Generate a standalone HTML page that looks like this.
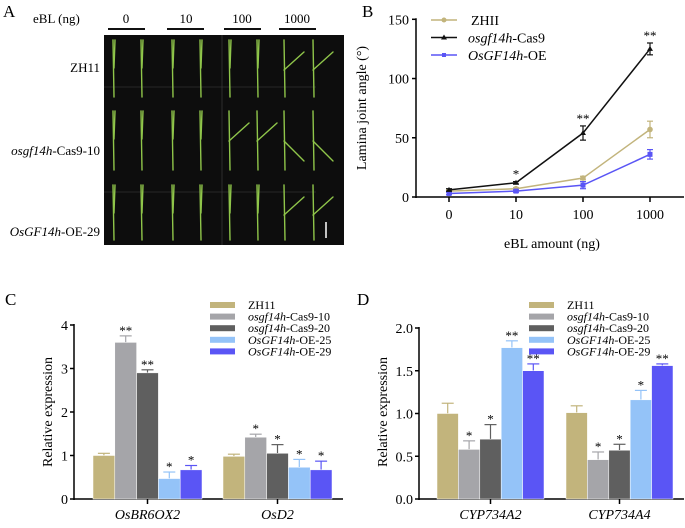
<!DOCTYPE html>
<html><head><meta charset="utf-8"><style>
body{margin:0;background:#fff}
svg, svg text{font-family:"Liberation Serif","Times New Roman",serif}
</style></head><body>
<svg id="fig" width="685" height="523" viewBox="0 0 685 523" xmlns="http://www.w3.org/2000/svg" font-family="Liberation Serif, Times New Roman, serif">
<g>
<text x="3" y="17" font-size="17">A</text>
<text x="33" y="23" font-size="13">eBL (ng)</text>
<g font-size="13" text-anchor="middle">
<text x="126" y="23">0</text><text x="186" y="23">10</text><text x="242" y="23">100</text><text x="297" y="23">1000</text>
</g>
<g stroke="#111" stroke-width="2">
<line x1="108" y1="29" x2="145" y2="29"/><line x1="167" y1="29" x2="204" y2="29"/><line x1="224" y1="29" x2="261" y2="29"/><line x1="279" y1="29" x2="316" y2="29"/>
</g>
<rect x="104" y="35" width="240" height="210" fill="#0d0d0d"/>
<g stroke="#444" stroke-width="0.6"><line x1="104" y1="87" x2="316" y2="87"/><line x1="104" y1="192" x2="316" y2="192"/><line x1="222" y1="35" x2="222" y2="245"/></g>
<g id="leaves" stroke="#8fc54a" stroke-width="1.4" stroke-linecap="round"></g>
<line x1="326" y1="222" x2="326" y2="238" stroke="#fff" stroke-width="1.5"/>
<g font-size="13" text-anchor="end">
<text x="100" y="72">ZH11</text>
<text x="100" y="155"><tspan font-style="italic">osgf14h</tspan>-Cas9-10</text>
<text x="100" y="236"><tspan font-style="italic">OsGF14h</tspan>-OE-29</text>
</g>
</g>
<text x="362" y="17" font-size="17">B</text>
<text x="5" y="305" font-size="17">C</text>
<text x="357" y="305" font-size="17">D</text>
<g id="pb"></g>
<g id="pc"></g>
<g id="pd"></g>
</svg>
<script>
// Panel B data
const doses=["0","10","100","1000"];
const zhVals=[5,7,16,57];
const zhErr=[1,1,1.5,7];
const casVals=[6,12,54,125];
const casErr=[1,1,6,5];
const oeVals=[3,5,10,36];
const oeErr=[1,1,3,4];
const casSig=["","*","**","**"];
const bTicks=[0,50,100,150];
// Panel C data
const cGenes=["OsBR6OX2","OsD2"];
const cVals=[[1.0,3.6,2.9,0.47,0.67],[0.98,1.42,1.05,0.73,0.67]];
const cErr=[[0.05,0.15,0.07,0.15,0.1],[0.05,0.07,0.2,0.18,0.2]];
const cSig=[["","**","**","*","*"],["","*","*","*","*"]];
const cTicks=["0","1","2","3","4"];
// Panel D data
const dGenes=["CYP734A2","CYP734A4"];
const dVals=[[1.0,0.58,0.7,1.77,1.5],[1.01,0.46,0.57,1.16,1.56]];
const dErr=[[0.12,0.1,0.17,0.08,0.08],[0.08,0.09,0.07,0.11,0.02]];
const dSig=[["","*","*","**","**"],["","*","*","*","**"]];
const dTicks=["0.0","0.5","1.0","1.5","2.0"];
const lines=["ZH11","osgf14h|-Cas9-10","osgf14h|-Cas9-20","OsGF14h|-OE-25","OsGF14h|-OE-29"];
const colors=["#c2b47c","#a5a5a9","#5f5f5f","#94c3f8","#5a55f5"];
const NS="http://www.w3.org/2000/svg";
function mk(p,t,a,txt){const e=document.createElementNS(NS,t);for(const k in a)e.setAttribute(k,a[k]);if(txt!==undefined)e.textContent=txt;p.appendChild(e);return e;}

// leaves (photo decoration)
const lv=document.getElementById('leaves');
const cols=[113,141,172,200,229,257,284,313];
const rows=[[40,97],[111,170],[185,240]];
const bend=[[0,0,0,0,0,0,1,1],[0,0,0,0,1,1,2,2],[0,0,0,0,0,0,1,1]];
rows.forEach((r,ri)=>cols.forEach((c,ci)=>{
 mk(lv,'line',{x1:c,y1:r[0],x2:c+1,y2:r[1]});
 const b=bend[ri][ci];
 if(b===0)mk(lv,'line',{x1:c+1,y1:r[0]+28,x2:c+2,y2:r[0]});
 else if(b===1)mk(lv,'line',{x1:c,y1:r[0]+30,x2:c+20,y2:r[0]+12});
 else mk(lv,'line',{x1:c,y1:r[0]+30,x2:c+20,y2:r[0]+50});
}));

// Panel B
(function(){
const g=document.getElementById('pb');
const X0=416,X1=684,Y0=197,Ytop=19.3;
const x=i=>449+i*67;const y=v=>Y0-(v/150)*(Y0-Ytop);
mk(g,'line',{x1:X0,y1:Ytop-1,x2:X0,y2:Y0+1,stroke:'#000','stroke-width':1.5});
mk(g,'line',{x1:X0,y1:Y0,x2:X1,y2:Y0,stroke:'#000','stroke-width':1.5});
bTicks.forEach(t=>{mk(g,'line',{x1:X0-4,y1:y(t),x2:X0,y2:y(t),stroke:'#000','stroke-width':1.5});
 const tt=mk(g,'text',{x:X0-7,y:y(t)+5,'font-size':14,'text-anchor':'end'},t);
 });
doses.forEach((d,i)=>{mk(g,'line',{x1:x(i),y1:Y0,x2:x(i),y2:Y0+5,stroke:'#000','stroke-width':1.5});
 const tt=mk(g,'text',{x:x(i),y:Y0+22,'font-size':14,'text-anchor':'middle'},d);
 });
const yt=mk(g,'text',{x:0,y:0,'font-size':14,'text-anchor':'middle',transform:'translate(366,108) rotate(-90)'},'Lamina joint angle (°)');

const xt=mk(g,'text',{x:552,y:248,'font-size':14,'text-anchor':'middle'},'eBL amount (ng)');

const series=[[zhVals,zhErr,'#c2b47c','circle','zh11-line'],[oeVals,oeErr,'#5a55f5','square','oe-line'],[casVals,casErr,'#111','tri','cas9-line']];
series.forEach(([v,e,c,m,n])=>{
 const p=mk(g,'polyline',{points:v.map((val,i)=>x(i)+','+y(val)).join(' '),fill:'none',stroke:c,'stroke-width':1.5});
 
 v.forEach((val,i)=>{
  mk(g,'line',{x1:x(i),y1:y(val+e[i]),x2:x(i),y2:y(val-e[i]),stroke:c,'stroke-width':1.2});
  mk(g,'line',{x1:x(i)-3,y1:y(val+e[i]),x2:x(i)+3,y2:y(val+e[i]),stroke:c,'stroke-width':1.2});
  mk(g,'line',{x1:x(i)-3,y1:y(val-e[i]),x2:x(i)+3,y2:y(val-e[i]),stroke:c,'stroke-width':1.2});
  let pt;
  if(m==='circle')pt=mk(g,'circle',{cx:x(i),cy:y(val),r:2.8,fill:c});
  else if(m==='square')pt=mk(g,'rect',{x:x(i)-2.5,y:y(val)-2.5,width:5,height:5,fill:c});
  else pt=mk(g,'polygon',{points:`${x(i)},${y(val)-3} ${x(i)-3},${y(val)+2} ${x(i)+3},${y(val)+2}`,fill:c});
  
 });
});
casSig.forEach((s,i)=>{if(s)mk(g,'text',{x:x(i),y:y(casVals[i]+casErr[i])-3,'font-size':13,'text-anchor':'middle'},s);});
const leg=[['ZHII','','#c2b47c','circle'],['osgf14h','-Cas9','#111','tri'],['OsGF14h','-OE','#5a55f5','square']];
leg.forEach((l,i)=>{const yy=20+i*17.5;
 const lg=mk(g,'g',{});
 mk(lg,'line',{x1:431,y1:yy,x2:457,y2:yy,stroke:l[2],'stroke-width':1.5});
 if(l[3]==='circle')mk(lg,'circle',{cx:444,cy:yy,r:2.5,fill:l[2]});
 else if(l[3]==='square')mk(lg,'rect',{x:442,y:yy-2,width:4,height:4,fill:l[2]});
 else mk(lg,'polygon',{points:`444,${yy-3} 441,${yy+2} 447,${yy+2}`,fill:l[2]});
 const t=mk(lg,'text',{x:i===0?471:468,y:yy+5,'font-size':14});
 if(i===0)mk(t,'tspan',{},l[0]);else{mk(t,'tspan',{'font-style':'italic'},l[0]);mk(t,'tspan',{},l[1]);}
});
})();

function barChart(id,genes,vals,errs,sigs,ticks,maxV,cfg){
 const g=document.getElementById(id);
 const y=v=>cfg.Y0-(v/maxV)*(cfg.Y0-cfg.Ytop);
 mk(g,'line',{x1:cfg.X0,y1:cfg.Ytop-1,x2:cfg.X0,y2:cfg.Y0+1,stroke:'#000','stroke-width':1.5});
 mk(g,'line',{x1:cfg.X0,y1:cfg.Y0,x2:cfg.X1,y2:cfg.Y0,stroke:'#000','stroke-width':1.5});
 ticks.forEach((t,i)=>{const v=maxV*i/(ticks.length-1);
  mk(g,'line',{x1:cfg.X0-4,y1:y(v),x2:cfg.X0,y2:y(v),stroke:'#000','stroke-width':1.5});
  const tt=mk(g,'text',{x:cfg.X0-6,y:y(v)+5,'font-size':14,'text-anchor':'end'},t);
  });
 const yt=mk(g,'text',{x:0,y:0,'font-size':14,'text-anchor':'middle',transform:`translate(${cfg.ytx},412) rotate(-90)`},'Relative expression');
 
 genes.forEach((gn,gi)=>{
  const gx=cfg.gStart[gi];
  vals[gi].forEach((v,bi)=>{
   const bx=gx+bi*cfg.bw;
   const e=errs[gi][bi];const c=colors[bi];
   const cx=bx+cfg.bw/2;
   mk(g,'line',{x1:cx,y1:y(v),x2:cx,y2:y(v+e),stroke:c,'stroke-width':1.2});
   mk(g,'line',{x1:cx-6,y1:y(v+e),x2:cx+6,y2:y(v+e),stroke:c,'stroke-width':1.2});
   const r=mk(g,'rect',{x:bx,y:y(v),width:cfg.bw,height:cfg.Y0-y(v),fill:c,stroke:'#fff','stroke-width':0.5});
   
   
   if(sigs[gi][bi])mk(g,'text',{x:cx,y:y(v+e)-1,'font-size':13,'text-anchor':'middle'},sigs[gi][bi]);
  });
  const center=gx+cfg.bw*2.5;
  mk(g,'line',{x1:center,y1:cfg.Y0,x2:center,y2:cfg.Y0+5,stroke:'#000','stroke-width':1.5});
  const tl=mk(g,'text',{x:center,y:cfg.Y0+20,'font-size':14,'font-style':'italic','text-anchor':'middle'},gn);
  
 });
 lines.forEach((l,i)=>{const yy=305+i*11.6;
  const lg=mk(g,'g',{});
  mk(lg,'rect',{x:cfg.lx,y:yy-3,width:25,height:6,fill:colors[i]});
  const t=mk(lg,'text',{x:cfg.tx,y:yy+4,'font-size':12});
  const p=l.split('|');
  if(p.length===1)mk(t,'tspan',{},p[0]);else{mk(t,'tspan',{'font-style':'italic'},p[0]);mk(t,'tspan',{},p[1]);}
 });
}
barChart('pc',cGenes,cVals,cErr,cSig,cTicks,4,{X0:74,X1:343,Y0:499,Ytop:325,gStart:[93,223],bw:21.8,ytx:52,lx:210,tx:248});
barChart('pd',dGenes,dVals,dErr,dSig,dTicks,2,{X0:419,X1:684,Y0:499,Ytop:328,gStart:[437,566],bw:21.4,ytx:387,lx:529,tx:567});
</script>
</body></html>
